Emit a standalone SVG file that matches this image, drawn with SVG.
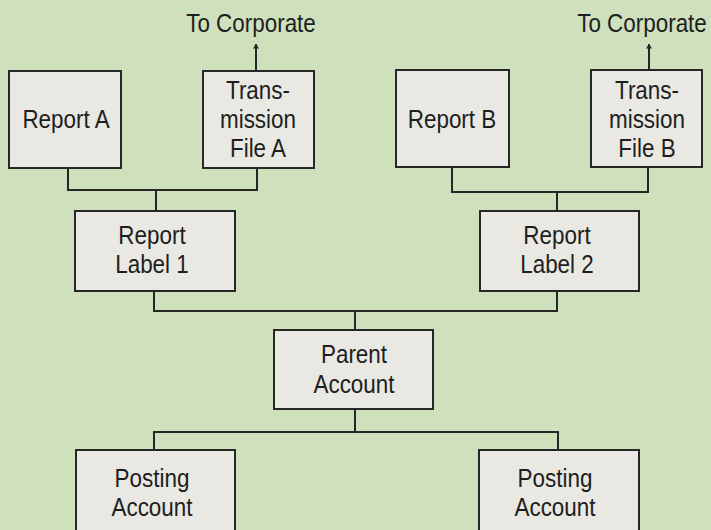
<svg xmlns="http://www.w3.org/2000/svg" width="711" height="530" viewBox="0 0 711 530">
<style>
.box{fill:#e9e8e2;stroke:#262626;stroke-width:2}
.t{font-family:"Liberation Sans",Arial,sans-serif;font-size:25.5px;fill:#1e1e1e;text-anchor:middle}
.c{fill:none;stroke:#262626;stroke-width:2}
</style>
<defs>
<marker id="ah" viewBox="0 0 6 10" refX="5.5" refY="5" markerWidth="5" markerHeight="9" markerUnits="userSpaceOnUse" orient="auto">
<path d="M0,1.5 L6,5 L0,8.5 Z" fill="#262626"/>
</marker>
</defs>
<rect width="711" height="530" fill="#cfe0bd"/>
<g id="connectors">
<path class="c" d="M256,71 V44" marker-end="url(#ah)"/>
<path class="c" d="M649,70 V44" marker-end="url(#ah)"/>
<path class="c" d="M68,168 V190 H257 V168"/>
<path class="c" d="M156,190 V211"/>
<path class="c" d="M452,167 V192 H648 V167"/>
<path class="c" d="M557,192 V211"/>
<path class="c" d="M154,291 V311 H557 V291"/>
<path class="c" d="M355,311 V330"/>
<path class="c" d="M355,409 V432"/>
<path class="c" d="M154,450 V432 H558 V450"/>
</g>
<g id="label-corp-a"><text class="t" transform="matrix(0.88 0 0 1 251 32)">To Corporate</text></g>
<g id="label-corp-b"><text class="t" transform="matrix(0.88 0 0 1 642 32)">To Corporate</text></g>
<g id="report-a"><rect class="box" x="9" y="71" width="112" height="97"/><text class="t" transform="matrix(0.88 0 0 1 66 128)">Report A</text></g>
<g id="trans-a"><rect class="box" x="203" y="71" width="111" height="97"/><text class="t" transform="matrix(0.88 0 0 1 258 99)">Trans-</text><text class="t" transform="matrix(0.88 0 0 1 258 128)">mission</text><text class="t" transform="matrix(0.88 0 0 1 258 157)">File A</text></g>
<g id="report-b"><rect class="box" x="396" y="70" width="113" height="97"/><text class="t" transform="matrix(0.88 0 0 1 452 128)">Report B</text></g>
<g id="trans-b"><rect class="box" x="591" y="70" width="111" height="97"/><text class="t" transform="matrix(0.88 0 0 1 647 99)">Trans-</text><text class="t" transform="matrix(0.88 0 0 1 647 128)">mission</text><text class="t" transform="matrix(0.88 0 0 1 647 157)">File B</text></g>
<g id="report-label-1"><rect class="box" x="75" y="211" width="160" height="80"/><text class="t" transform="matrix(0.88 0 0 1 152 244)">Report</text><text class="t" transform="matrix(0.88 0 0 1 152 273)">Label 1</text></g>
<g id="report-label-2"><rect class="box" x="480" y="211" width="159" height="80"/><text class="t" transform="matrix(0.88 0 0 1 557 244)">Report</text><text class="t" transform="matrix(0.88 0 0 1 557 273)">Label 2</text></g>
<g id="parent-account"><rect class="box" x="274" y="330" width="159" height="79"/><text class="t" transform="matrix(0.88 0 0 1 354 363)">Parent</text><text class="t" transform="matrix(0.88 0 0 1 354 393)">Account</text></g>
<g id="posting-1"><rect class="box" x="76" y="450" width="159" height="90"/><text class="t" transform="matrix(0.88 0 0 1 152 487)">Posting</text><text class="t" transform="matrix(0.88 0 0 1 152 516)">Account</text></g>
<g id="posting-2"><rect class="box" x="479" y="450" width="160" height="90"/><text class="t" transform="matrix(0.88 0 0 1 555 487)">Posting</text><text class="t" transform="matrix(0.88 0 0 1 555 516)">Account</text></g>
</svg>
